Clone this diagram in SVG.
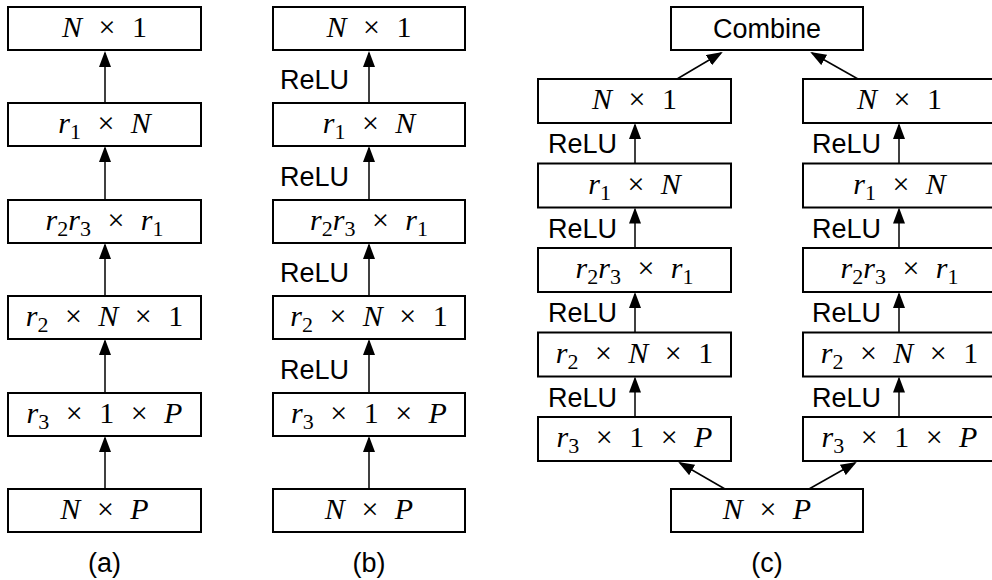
<svg xmlns="http://www.w3.org/2000/svg" width="992" height="580" viewBox="0 0 992 580">
<style>
.box{fill:#fff;stroke:#000;stroke-width:2}
.m{font-family:"Liberation Serif",serif;font-size:30px;word-spacing:9px;text-anchor:middle;fill:#000}
.i{font-style:italic}
.s{font-size:22px}
.t{font-family:"Liberation Sans",Arial,sans-serif;font-size:27px;fill:#000}
.r{text-anchor:end}
.c{text-anchor:middle}
.e{stroke:#000;stroke-width:1.5;fill:none;marker-end:url(#ah)}
</style>
<defs>
<marker id="ah" markerUnits="userSpaceOnUse" viewBox="0 0 16 12" markerWidth="16" markerHeight="12" refX="14" refY="6" orient="auto">
<path d="M0,0 L16,6 L0,12 z" fill="#000"/>
</marker>
</defs>
<rect width="992" height="580" fill="#fff"/>

<g id="connectors">
<line class="e" x1="105" y1="103" x2="105" y2="53"/>
<line class="e" x1="105" y1="200" x2="105" y2="148"/>
<line class="e" x1="105" y1="296" x2="105" y2="245"/>
<line class="e" x1="105" y1="393" x2="105" y2="341"/>
<line class="e" x1="105" y1="489" x2="105" y2="438"/>
<line class="e" x1="369" y1="103" x2="369" y2="53"/>
<line class="e" x1="369" y1="200" x2="369" y2="148"/>
<line class="e" x1="369" y1="296" x2="369" y2="245"/>
<line class="e" x1="369" y1="393" x2="369" y2="341"/>
<line class="e" x1="369" y1="489" x2="369" y2="438"/>
<line class="e" x1="635" y1="163.5" x2="635" y2="125"/>
<line class="e" x1="635" y1="248" x2="635" y2="209.5"/>
<line class="e" x1="635" y1="332.5" x2="635" y2="294"/>
<line class="e" x1="635" y1="417" x2="635" y2="378.5"/>
<line class="e" x1="899" y1="163.5" x2="899" y2="125"/>
<line class="e" x1="899" y1="248" x2="899" y2="209.5"/>
<line class="e" x1="899" y1="332.5" x2="899" y2="294"/>
<line class="e" x1="899" y1="417" x2="899" y2="378.5"/>
<line class="e" x1="677" y1="79" x2="721" y2="53"/>
<line class="e" x1="858" y1="79" x2="812" y2="53"/>
<line class="e" x1="725" y1="489" x2="680" y2="463"/>
<line class="e" x1="809" y1="489" x2="855" y2="463"/>
<text class="t r" x="349" y="89">ReLU</text>
<text class="t r" x="349" y="186">ReLU</text>
<text class="t r" x="349" y="282">ReLU</text>
<text class="t r" x="349" y="379">ReLU</text>
<text class="t r" x="617" y="153">ReLU</text>
<text class="t r" x="617" y="238">ReLU</text>
<text class="t r" x="617" y="322">ReLU</text>
<text class="t r" x="617" y="407">ReLU</text>
<text class="t r" x="881" y="153">ReLU</text>
<text class="t r" x="881" y="238">ReLU</text>
<text class="t r" x="881" y="322">ReLU</text>
<text class="t r" x="881" y="407">ReLU</text>
</g>

<g id="a1"><rect class="box" x="8" y="7" width="193" height="43"/><text class="m" x="104.5" y="37"><tspan class="i">N</tspan> × 1</text></g>
<g id="a2"><rect class="box" x="8" y="103" width="193" height="43"/><text class="m" x="104.5" y="133"><tspan class="i">r</tspan><tspan class="s" dy="6">1</tspan><tspan dy="-6"> × </tspan><tspan class="i">N</tspan></text></g>
<g id="a3"><rect class="box" x="8" y="200" width="193" height="43"/><text class="m" x="104.5" y="230"><tspan class="i">r</tspan><tspan class="s" dy="6">2</tspan><tspan class="i" dy="-6">r</tspan><tspan class="s" dy="6">3</tspan><tspan dy="-6"> × </tspan><tspan class="i">r</tspan><tspan class="s" dy="6">1</tspan></text></g>
<g id="a4"><rect class="box" x="8" y="296" width="193" height="43"/><text class="m" x="104.5" y="326"><tspan class="i">r</tspan><tspan class="s" dy="6">2</tspan><tspan dy="-6"> × </tspan><tspan class="i">N</tspan> × 1</text></g>
<g id="a5"><rect class="box" x="8" y="393" width="193" height="43"/><text class="m" x="104.5" y="423"><tspan class="i">r</tspan><tspan class="s" dy="6">3</tspan><tspan dy="-6"> × 1 × </tspan><tspan class="i">P</tspan></text></g>
<g id="a6"><rect class="box" x="8" y="489" width="193" height="43"/><text class="m" x="104.5" y="519"><tspan class="i">N</tspan> × <tspan class="i">P</tspan></text></g>
<text class="t c" x="104.5" y="572">(a)</text>

<g id="b1"><rect class="box" x="273" y="7" width="192" height="43"/><text class="m" x="369" y="37"><tspan class="i">N</tspan> × 1</text></g>
<g id="b2"><rect class="box" x="273" y="103" width="192" height="43"/><text class="m" x="369" y="133"><tspan class="i">r</tspan><tspan class="s" dy="6">1</tspan><tspan dy="-6"> × </tspan><tspan class="i">N</tspan></text></g>
<g id="b3"><rect class="box" x="273" y="200" width="192" height="43"/><text class="m" x="369" y="230"><tspan class="i">r</tspan><tspan class="s" dy="6">2</tspan><tspan class="i" dy="-6">r</tspan><tspan class="s" dy="6">3</tspan><tspan dy="-6"> × </tspan><tspan class="i">r</tspan><tspan class="s" dy="6">1</tspan></text></g>
<g id="b4"><rect class="box" x="273" y="296" width="192" height="43"/><text class="m" x="369" y="326"><tspan class="i">r</tspan><tspan class="s" dy="6">2</tspan><tspan dy="-6"> × </tspan><tspan class="i">N</tspan> × 1</text></g>
<g id="b5"><rect class="box" x="273" y="393" width="192" height="43"/><text class="m" x="369" y="423"><tspan class="i">r</tspan><tspan class="s" dy="6">3</tspan><tspan dy="-6"> × 1 × </tspan><tspan class="i">P</tspan></text></g>
<g id="b6"><rect class="box" x="273" y="489" width="192" height="43"/><text class="m" x="369" y="519"><tspan class="i">N</tspan> × <tspan class="i">P</tspan></text></g>
<text class="t c" x="369" y="572">(b)</text>

<g id="c-combine"><rect class="box" x="671" y="7" width="192" height="43"/><text class="t c" x="767" y="38">Combine</text></g>
<g id="cl1"><rect class="box" x="538" y="79" width="193" height="44"/><text class="m" x="634.5" y="109"><tspan class="i">N</tspan> × 1</text></g>
<g id="cl2"><rect class="box" x="538" y="163.5" width="193" height="44"/><text class="m" x="634.5" y="193.5"><tspan class="i">r</tspan><tspan class="s" dy="6">1</tspan><tspan dy="-6"> × </tspan><tspan class="i">N</tspan></text></g>
<g id="cl3"><rect class="box" x="538" y="248" width="193" height="44"/><text class="m" x="634.5" y="278"><tspan class="i">r</tspan><tspan class="s" dy="6">2</tspan><tspan class="i" dy="-6">r</tspan><tspan class="s" dy="6">3</tspan><tspan dy="-6"> × </tspan><tspan class="i">r</tspan><tspan class="s" dy="6">1</tspan></text></g>
<g id="cl4"><rect class="box" x="538" y="332.5" width="193" height="44"/><text class="m" x="634.5" y="362.5"><tspan class="i">r</tspan><tspan class="s" dy="6">2</tspan><tspan dy="-6"> × </tspan><tspan class="i">N</tspan> × 1</text></g>
<g id="cl5"><rect class="box" x="538" y="417" width="193" height="44"/><text class="m" x="634.5" y="447"><tspan class="i">r</tspan><tspan class="s" dy="6">3</tspan><tspan dy="-6"> × 1 × </tspan><tspan class="i">P</tspan></text></g>
<g id="cr1"><rect class="box" x="803" y="79" width="193" height="44"/><text class="m" x="899.5" y="109"><tspan class="i">N</tspan> × 1</text></g>
<g id="cr2"><rect class="box" x="803" y="163.5" width="193" height="44"/><text class="m" x="899.5" y="193.5"><tspan class="i">r</tspan><tspan class="s" dy="6">1</tspan><tspan dy="-6"> × </tspan><tspan class="i">N</tspan></text></g>
<g id="cr3"><rect class="box" x="803" y="248" width="193" height="44"/><text class="m" x="899.5" y="278"><tspan class="i">r</tspan><tspan class="s" dy="6">2</tspan><tspan class="i" dy="-6">r</tspan><tspan class="s" dy="6">3</tspan><tspan dy="-6"> × </tspan><tspan class="i">r</tspan><tspan class="s" dy="6">1</tspan></text></g>
<g id="cr4"><rect class="box" x="803" y="332.5" width="193" height="44"/><text class="m" x="899.5" y="362.5"><tspan class="i">r</tspan><tspan class="s" dy="6">2</tspan><tspan dy="-6"> × </tspan><tspan class="i">N</tspan> × 1</text></g>
<g id="cr5"><rect class="box" x="803" y="417" width="193" height="44"/><text class="m" x="899.5" y="447"><tspan class="i">r</tspan><tspan class="s" dy="6">3</tspan><tspan dy="-6"> × 1 × </tspan><tspan class="i">P</tspan></text></g>
<g id="c-input"><rect class="box" x="671" y="489" width="192" height="43"/><text class="m" x="767" y="519"><tspan class="i">N</tspan> × <tspan class="i">P</tspan></text></g>
<text class="t c" x="767" y="572">(c)</text>
</svg>
